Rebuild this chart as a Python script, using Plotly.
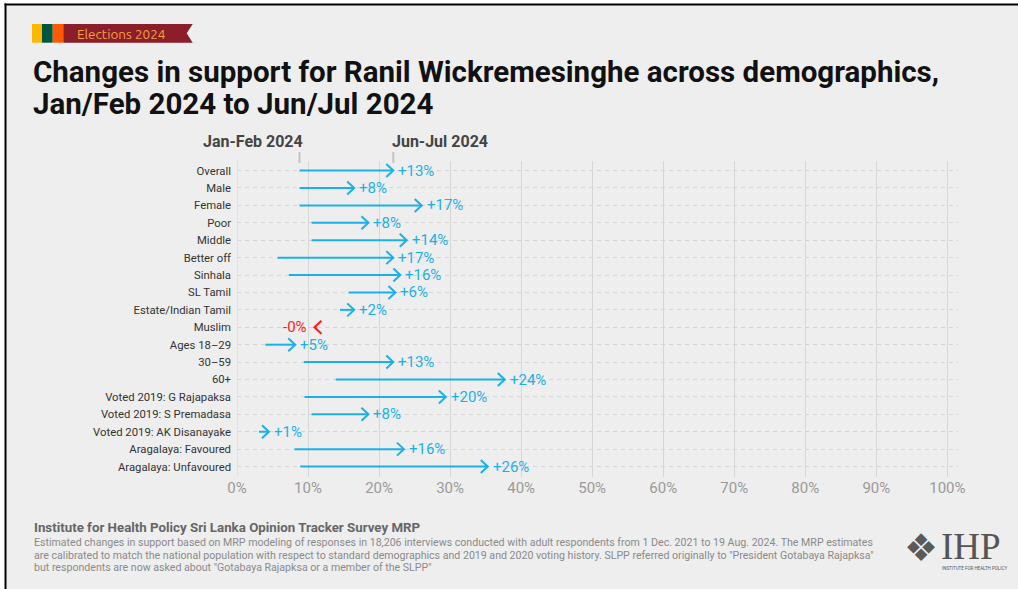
import plotly.graph_objects as go

categories = ["Overall", "Male", "Female", "Poor", "Middle", "Better off", "Sinhala",
              "SL Tamil", "Estate/Indian Tamil", "Muslim", "Ages 18–29", "30–59", "60+",
              "Voted 2019: G Rajapaksa", "Voted 2019: S Premadasa",
              "Voted 2019: AK Disanayake", "Aragalaya: Favoured", "Aragalaya: Unfavoured"]
jan_feb = [8.8, 8.8, 8.8, 10.5, 10.5, 5.7, 7.3, 15.7, 14.5, 11.2, 4.0, 9.4, 13.9, 9.5, 10.5, 3.1, 8.1, 8.9]
jun_jul = [22.0, 16.5, 26.0, 18.5, 23.9, 22.0, 23.0, 22.3, 16.5, 10.9, 8.2, 22.0, 37.7, 29.4, 18.5, 4.5, 23.5, 35.3]
change_labels = ["+13%", "+8%", "+17%", "+8%", "+14%", "+17%", "+16%", "+6%", "+2%", "-0%",
                 "+5%", "+13%", "+24%", "+20%", "+8%", "+1%", "+16%", "+26%"]
x_ticks = list(range(0, 101, 10))
x_tick_labels = [f"{v}%" for v in x_ticks]

BLUE = "#1AB0E8"
RED = "#FF1A1A"
FONT = "Roboto"

W_FIG, H_FIG = 1018, 589
L, R, T, B = 237, 958, 161, 477
X_RANGE = [0, 101.5]
Y_RANGE = [17.6, -0.55]
PX_PER_X = (R - L) / (X_RANGE[1] - X_RANGE[0])
PX_PER_Y = (B - T) / (Y_RANGE[0] - Y_RANGE[1])
HEAD_W, HEAD_H = 7.0, 6.5   # arrowhead size in pixels


def xp(px):
    return (px - L) / (R - L)


def yp(py):
    return (B - py) / (B - T)


rows = list(range(len(categories)))
fig = go.Figure()

for colr, want_up in ((BLUE, True), (RED, False)):
    xs, ys = [], []
    for i, a, b in zip(rows, jan_feb, jun_jul):
        up = b >= a
        if up != want_up:
            continue
        s = 1 if up else -1
        dx = HEAD_W / PX_PER_X
        dy = HEAD_H / PX_PER_Y
        xs += [a, b, None, b - s * dx, b, b - s * dx, None]
        ys += [i, i, None, i - dy, i, i + dy, None]
    fig.add_trace(go.Scatter(x=xs, y=ys, mode="lines", line=dict(color=colr, width=2),
                             hoverinfo="skip", showlegend=False))

annotations = []
for i, a, b, lab in zip(rows, jan_feb, jun_jul, change_labels):
    up = b >= a
    annotations.append(dict(x=b, y=i, xref="x", yref="y", text=lab, showarrow=False,
                            xanchor="left" if up else "right", yanchor="middle",
                            xshift=3 if up else -5,
                            font=dict(family=FONT, size=15, color=BLUE if up else RED)))

# header labels for the two periods
annotations.append(dict(x=jan_feb[0], y=yp(142), xref="x", yref="paper", text="<b>Jan-Feb 2024</b>",
                        showarrow=False, xanchor="right", yanchor="middle", xshift=5,
                        font=dict(family=FONT, size=16, color="#444444")))
annotations.append(dict(x=jun_jul[0], y=yp(142), xref="x", yref="paper", text="<b>Jun-Jul 2024</b>",
                        showarrow=False, xanchor="left", yanchor="middle", xshift=-3,
                        font=dict(family=FONT, size=16, color="#444444")))

shapes = []
for v in (jan_feb[0], jun_jul[0]):
    shapes.append(dict(type="line", xref="x", yref="paper", x0=v, x1=v, y0=yp(152), y1=yp(163),
                       line=dict(color="#c4c4c4", width=2)))

# title
annotations.append(dict(x=xp(31), y=yp(72), xref="paper", yref="paper",
                        text="<b>Changes in support for Ranil Wickremesinghe across demographics,</b>",
                        showarrow=False, xanchor="left", yanchor="middle",
                        font=dict(family=FONT, size=29.5, color="#111111")))
annotations.append(dict(x=xp(31), y=yp(104), xref="paper", yref="paper",
                        text="<b>Jan/Feb 2024 to Jun/Jul 2024</b>",
                        showarrow=False, xanchor="left", yanchor="middle",
                        font=dict(family=FONT, size=29.5, color="#111111")))

# banner
banner = [("#FFB800", 32, 42), ("#00573F", 42, 52.7), ("#FF5A00", 52.7, 63.3)]
for colr, x0, x1 in banner:
    shapes.append(dict(type="rect", xref="paper", yref="paper", x0=xp(x0), x1=xp(x1),
                       y0=yp(42.7), y1=yp(24), line=dict(width=0), fillcolor=colr))
path = (f"M {xp(63.3)},{yp(24)} L {xp(192.7)},{yp(24)} L {xp(186.7)},{yp(33.3)} "
        f"L {xp(192.7)},{yp(42.7)} L {xp(63.3)},{yp(42.7)} Z")
shapes.append(dict(type="path", xref="paper", yref="paper", path=path,
                   line=dict(width=0), fillcolor="#8C1D2B"))
annotations.append(dict(x=xp(75), y=yp(33.5), xref="paper", yref="paper", text="Elections 2024",
                        showarrow=False, xanchor="left", yanchor="middle",
                        font=dict(family="Ubuntu, Roboto", size=13.5, color="#F2A23A")))

# footer
annotations.append(dict(x=xp(32), y=yp(527), xref="paper", yref="paper",
                        text="<b>Institute for Health Policy Sri Lanka Opinion Tracker Survey MRP</b>",
                        showarrow=False, xanchor="left", yanchor="middle",
                        font=dict(family=FONT, size=13.3, color="#666666")))
foot_lines = [
    "Estimated changes in support based on MRP modeling of responses in 18,206 interviews conducted with adult respondents from 1 Dec. 2021 to 19 Aug. 2024. The MRP estimates",
    "are calibrated to match the national population with respect to standard demographics and 2019 and 2020 voting history. SLPP referred originally to \"President Gotabaya Rajapksa\"",
    "but respondents are now asked about \"Gotabaya Rajapksa or a member of the SLPP\"",
]
for i, ln in enumerate(foot_lines):
    annotations.append(dict(x=xp(32), y=yp(542.5 + 12.5 * i), xref="paper", yref="paper",
                            text=ln, showarrow=False, xanchor="left", yanchor="middle",
                            font=dict(family=FONT, size=10.6, color="#8a8a8a")))

# logo
annotations.append(dict(x=xp(921), y=yp(548), xref="paper", yref="paper", text="❖",
                        showarrow=False, xanchor="center", yanchor="middle",
                        font=dict(family="DejaVu Sans", size=38, color="#5a5a5a")))
annotations.append(dict(x=xp(939), y=yp(546), xref="paper", yref="paper", text="IHP",
                        showarrow=False, xanchor="left", yanchor="middle",
                        font=dict(family="Liberation Serif", size=37, color="#555555")))
annotations.append(dict(x=xp(940), y=yp(568), xref="paper", yref="paper",
                        text="INSTITUTE FOR HEALTH POLICY",
                        showarrow=False, xanchor="left", yanchor="middle",
                        font=dict(family=FONT, size=4.5, color="#555555")))

# background / frame
shapes.append(dict(type="rect", xref="paper", yref="paper", x0=xp(5), x1=xp(1030),
                   y0=yp(600), y1=yp(4), line=dict(width=0), fillcolor="#EEEEEE", layer="below"))
shapes.append(dict(type="line", xref="paper", yref="paper", x0=xp(4.5), x1=xp(1030),
                   y0=yp(4.5), y1=yp(4.5), line=dict(color="#000000", width=2)))
shapes.append(dict(type="line", xref="paper", yref="paper", x0=xp(5.5), x1=xp(5.5),
                   y0=yp(3.5), y1=yp(600), line=dict(color="#000000", width=2)))

fig.update_layout(
    width=W_FIG, height=H_FIG,
    margin=dict(l=L, r=W_FIG - R, t=T, b=H_FIG - B, pad=0),
    paper_bgcolor="#FFFFFF", plot_bgcolor="#EEEEEE",
    showlegend=False,
    annotations=annotations, shapes=shapes,
    xaxis=dict(range=X_RANGE, tickvals=x_ticks, ticktext=x_tick_labels,
               showgrid=True, gridcolor="#D6D6D6", gridwidth=1,
               zeroline=True, zerolinecolor="#E2E2E2", zerolinewidth=1,
               showline=False, ticks="", ticklabelstandoff=0,
               tickfont=dict(family=FONT, size=15, color="#9A9A9A"), fixedrange=True),
    yaxis=dict(range=Y_RANGE, tickvals=rows, ticktext=categories,
               showgrid=True, gridcolor="#D6D6D6", griddash="4px,4px",
               gridwidth=1, zeroline=False, showline=False, ticks="", ticklabelstandoff=5,
               tickfont=dict(family=FONT, size=11.3, color="#333333"), fixedrange=True),
)

fig.write_html("out.html")
